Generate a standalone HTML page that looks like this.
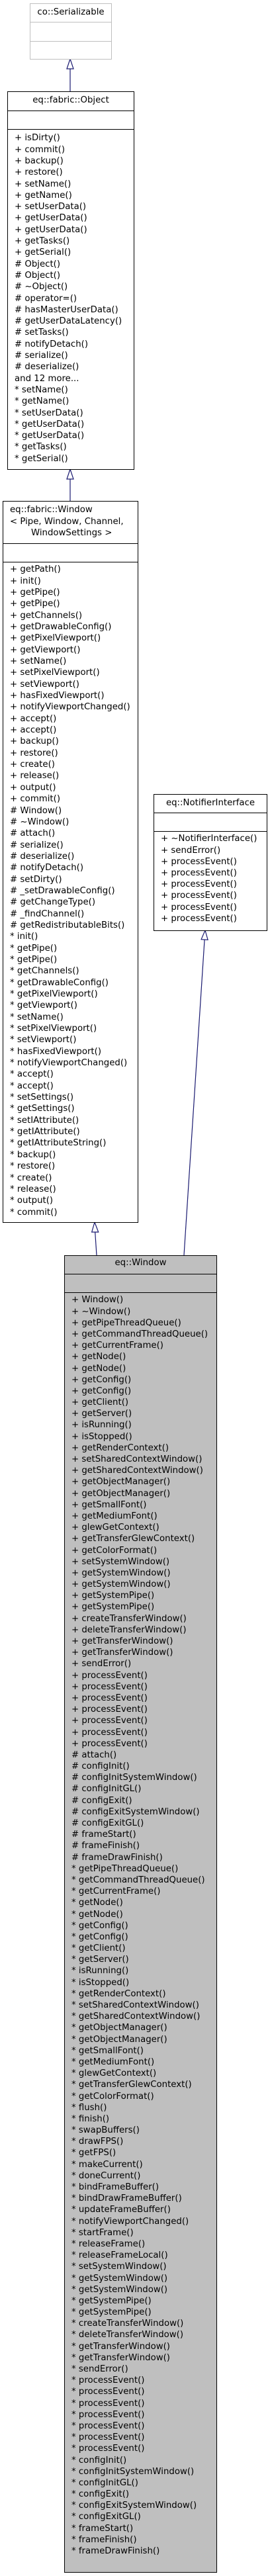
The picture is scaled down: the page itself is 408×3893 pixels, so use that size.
<!DOCTYPE html>
<html><head><meta charset="utf-8">
<style>
html,body{margin:0;padding:0;background:#fff;}
body{width:408px;height:3893px;position:relative;overflow:hidden;font-family:"DejaVu Sans","Liberation Sans",sans-serif;font-size:13.3px;color:#000;}
.b{position:absolute;box-sizing:border-box;border:1px solid #000;background:#fff;}
.h{position:absolute;height:0;border-top:1px solid #000;}
.t{position:absolute;white-space:pre;line-height:16px;}
.m{position:absolute;white-space:pre;}
svg{position:absolute;left:0;top:0;}
</style></head><body>
<svg width="408" height="3893">
<g stroke="#191970" stroke-width="1.2" fill="none">
<line x1="106" y1="104" x2="106" y2="138"/>
<line x1="106" y1="724" x2="106" y2="757"/>
<line x1="143.7" y1="1862" x2="146" y2="1897"/>
<line x1="309.1" y1="1420" x2="278" y2="1897"/>
</g>
<g stroke="#191970" stroke-width="1.2" fill="#fff">
<polygon points="106,89 101,104 111,104"/>
<polygon points="106,709 101,724 111,724"/>
<polygon points="143,1847 138.7,1862 148.7,1862"/>
<polygon points="310,1406 314.1,1420.3 304.1,1419.7"/>
</g>
</svg>

<!-- Serializable -->
<div class="b" style="left:45px;top:5px;width:124px;height:85px;border-color:#bfbfbf"></div>
<div class="h" style="left:45px;top:33px;width:124px;border-color:#bfbfbf"></div>
<div class="h" style="left:45px;top:62px;width:124px;border-color:#bfbfbf"></div>
<div class="t" style="left:45px;width:124px;top:11px;text-align:center">co::Serializable</div>

<!-- Object -->
<div class="b" style="left:11px;top:138px;width:192px;height:572px"></div>
<div class="h" style="left:11px;top:167px;width:192px"></div>
<div class="h" style="left:11px;top:195px;width:192px"></div>
<div class="t" style="left:11px;width:192px;top:144px;text-align:center">eq::fabric::Object</div>
<div class="m" style="left:22px;top:200.4px;line-height:17.29px">+ isDirty()
+ commit()
+ backup()
+ restore()
+ setName()
+ getName()
+ setUserData()
+ getUserData()
+ getUserData()
+ getTasks()
+ getSerial()
# Object()
# Object()
# ~Object()
# operator=()
# hasMasterUserData()
# getUserDataLatency()
# setTasks()
# notifyDetach()
# serialize()
# deserialize()
and 12 more...
* setName()
* getName()
* setUserData()
* getUserData()
* getUserData()
* getTasks()
* getSerial()</div>

<!-- fabric::Window -->
<div class="b" style="left:4px;top:757px;width:205px;height:1091px"></div>
<div class="h" style="left:4px;top:821px;width:205px"></div>
<div class="h" style="left:4px;top:849px;width:205px"></div>
<div class="t" style="left:15px;top:762px;line-height:17.5px">eq::fabric::Window
&lt; Pipe, Window, Channel,
<span style="padding-left:32px">WindowSettings &gt;</span></div>
<div class="m" style="left:15px;top:852.3px;line-height:17.34px">+ getPath()
+ init()
+ getPipe()
+ getPipe()
+ getChannels()
+ getDrawableConfig()
+ getPixelViewport()
+ getViewport()
+ setName()
+ setPixelViewport()
+ setViewport()
+ hasFixedViewport()
+ notifyViewportChanged()
+ accept()
+ accept()
+ backup()
+ restore()
+ create()
+ release()
+ output()
+ commit()
# Window()
# ~Window()
# attach()
# serialize()
# deserialize()
# notifyDetach()
# setDirty()
# _setDrawableConfig()
# getChangeType()
# _findChannel()
# getRedistributableBits()
* init()
* getPipe()
* getPipe()
* getChannels()
* getDrawableConfig()
* getPixelViewport()
* getViewport()
* setName()
* setPixelViewport()
* setViewport()
* hasFixedViewport()
* notifyViewportChanged()
* accept()
* accept()
* setSettings()
* getSettings()
* setIAttribute()
* getIAttribute()
* getIAttributeString()
* backup()
* restore()
* create()
* release()
* output()
* commit()</div>

<!-- NotifierInterface -->
<div class="b" style="left:232px;top:1200px;width:172px;height:207px"></div>
<div class="h" style="left:232px;top:1228px;width:172px"></div>
<div class="h" style="left:232px;top:1256px;width:172px"></div>
<div class="t" style="left:232px;width:172px;top:1206px;text-align:center">eq::NotifierInterface</div>
<div class="m" style="left:243px;top:1259.4px;line-height:17.2px">+ ~NotifierInterface()
+ sendError()
+ processEvent()
+ processEvent()
+ processEvent()
+ processEvent()
+ processEvent()
+ processEvent()</div>

<!-- eq::Window -->
<div class="b" style="left:97px;top:1897px;width:231px;height:1991px;background:#bfbfbf"></div>
<div class="h" style="left:97px;top:1925px;width:231px"></div>
<div class="h" style="left:97px;top:1953px;width:231px"></div>
<div class="t" style="left:97px;width:231px;top:1901px;text-align:center">eq::Window</div>
<div class="m" style="left:108px;top:1956.4px;line-height:17.18px">+ Window()
+ ~Window()
+ getPipeThreadQueue()
+ getCommandThreadQueue()
+ getCurrentFrame()
+ getNode()
+ getNode()
+ getConfig()
+ getConfig()
+ getClient()
+ getServer()
+ isRunning()
+ isStopped()
+ getRenderContext()
+ setSharedContextWindow()
+ getSharedContextWindow()
+ getObjectManager()
+ getObjectManager()
+ getSmallFont()
+ getMediumFont()
+ glewGetContext()
+ getTransferGlewContext()
+ getColorFormat()
+ setSystemWindow()
+ getSystemWindow()
+ getSystemWindow()
+ getSystemPipe()
+ getSystemPipe()
+ createTransferWindow()
+ deleteTransferWindow()
+ getTransferWindow()
+ getTransferWindow()
+ sendError()
+ processEvent()
+ processEvent()
+ processEvent()
+ processEvent()
+ processEvent()
+ processEvent()
+ processEvent()
# attach()
# configInit()
# configInitSystemWindow()
# configInitGL()
# configExit()
# configExitSystemWindow()
# configExitGL()
# frameStart()
# frameFinish()
# frameDrawFinish()
* getPipeThreadQueue()
* getCommandThreadQueue()
* getCurrentFrame()
* getNode()
* getNode()
* getConfig()
* getConfig()
* getClient()
* getServer()
* isRunning()
* isStopped()
* getRenderContext()
* setSharedContextWindow()
* getSharedContextWindow()
* getObjectManager()
* getObjectManager()
* getSmallFont()
* getMediumFont()
* glewGetContext()
* getTransferGlewContext()
* getColorFormat()
* flush()
* finish()
* swapBuffers()
* drawFPS()
* getFPS()
* makeCurrent()
* doneCurrent()
* bindFrameBuffer()
* bindDrawFrameBuffer()
* updateFrameBuffer()
* notifyViewportChanged()
* startFrame()
* releaseFrame()
* releaseFrameLocal()
* setSystemWindow()
* getSystemWindow()
* getSystemWindow()
* getSystemPipe()
* getSystemPipe()
* createTransferWindow()
* deleteTransferWindow()
* getTransferWindow()
* getTransferWindow()
* sendError()
* processEvent()
* processEvent()
* processEvent()
* processEvent()
* processEvent()
* processEvent()
* processEvent()
* configInit()
* configInitSystemWindow()
* configInitGL()
* configExit()
* configExitSystemWindow()
* configExitGL()
* frameStart()
* frameFinish()
* frameDrawFinish()</div>
</body></html>
